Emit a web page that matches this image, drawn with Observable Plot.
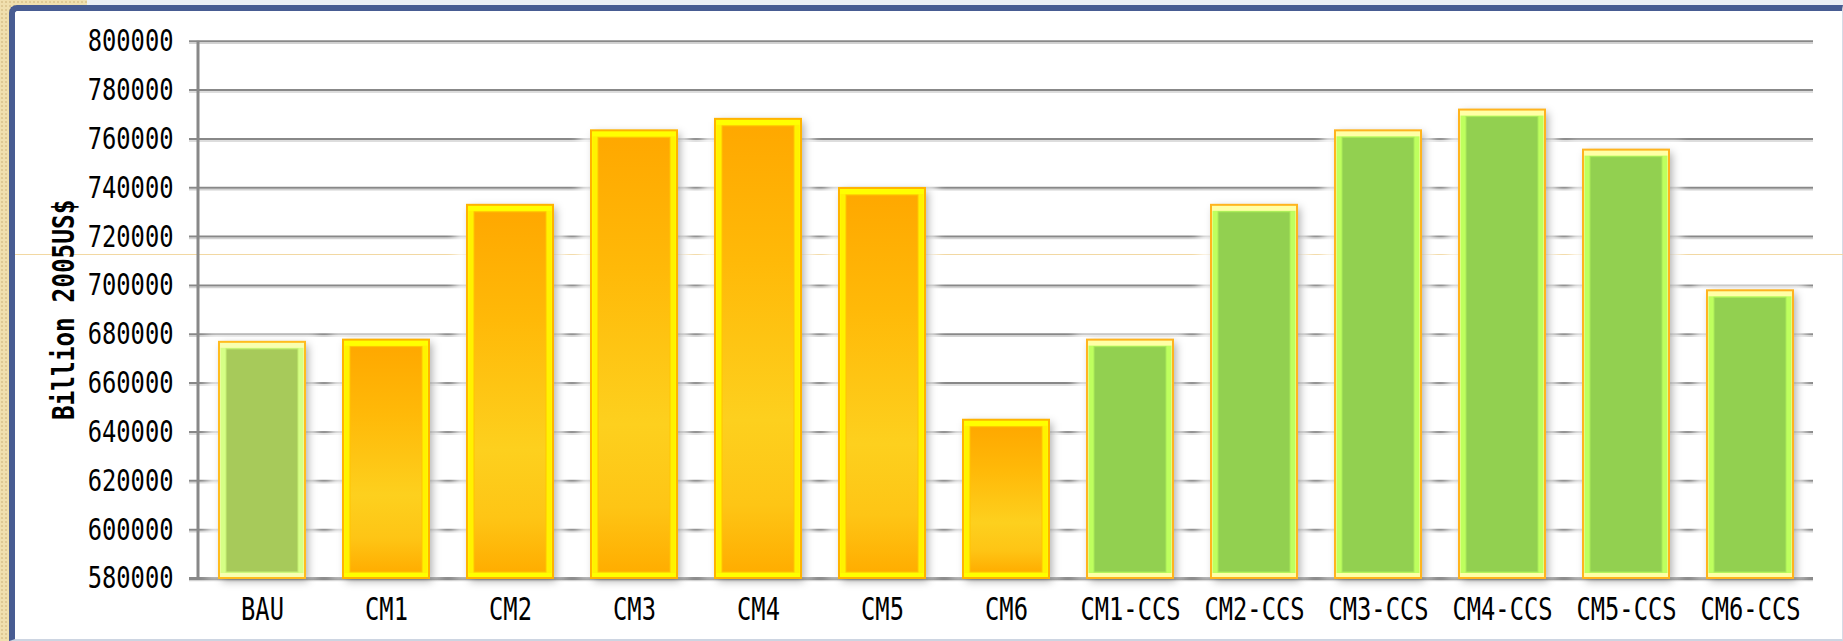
<!DOCTYPE html>
<html>
<head>
<meta charset="utf-8">
<script src="https://cdn.jsdelivr.net/npm/d3@7"></script>
<script src="https://cdn.jsdelivr.net/npm/@observablehq/plot@0.6"></script>
<style>
  html, body { margin: 0; padding: 0; }
  body {
    width: 1843px; height: 641px; overflow: hidden;
    background-color: #f0dfae;
    background-image: radial-gradient(rgba(190, 160, 100, 0.35) 1px, transparent 1.3px);
    background-size: 4px 4px;
  }
  #stage { position: relative; width: 1843px; height: 641px; }
  .top-strip { position: absolute; left: 87px; top: 0; right: 0; height: 6px; background: #eceff5; }
  .frame {
    position: absolute; left: 9px; top: 5px; right: 0; bottom: 0;
    box-sizing: border-box; background: #fff;
    border-left: 6px solid #485c92; border-top: 6px solid #485c92;
    border-right: 1px solid #d5dbe6; border-bottom: 2px solid #cdd5e2;
    border-top-left-radius: 8px;
  }
  .seam { position: absolute; left: 15px; right: 0; top: 254px; height: 1px; background: #f2d8a2; }
</style>
</head>
<body>
<div id="stage">
  <div class="top-strip"></div>
  <div class="frame"></div>
  <div class="seam"></div>
</div>
<script>
// Scenario results, billion 2005 US$
const scenarios = ["BAU", "CM1", "CM2", "CM3", "CM4", "CM5", "CM6",
                   "CM1-CCS", "CM2-CCS", "CM3-CCS", "CM4-CCS", "CM5-CCS", "CM6-CCS"];
const gdp = [676700, 677600, 732800, 763300, 768000, 739700, 644800,
             677600, 732800, 763300, 771800, 755400, 697800];
const groups = ["base", "mitigation", "mitigation", "mitigation", "mitigation", "mitigation", "mitigation",
                "ccs", "ccs", "ccs", "ccs", "ccs", "ccs"];
const yTicks = [580000, 600000, 620000, 640000, 660000, 680000, 700000,
                720000, 740000, 760000, 780000, 800000];
const yTitle = "Billion 2005US$";

const table = scenarios.map((scenario, i) => ({scenario, value: gdp[i], group: groups[i]}));
const floor = yTicks[0];

// bar styling per scenario group
const palette = {
  base:       {outline: "#ffbc1e", bevel: "#f8ffb0", rim: "#d6ff86", fill: "#a7ca5a", line: "#c4f070"},
  mitigation: {outline: "#ffb300", bevel: "#ffff00", rim: "#fff200", fill: "url(#orangeFill)", line: "#ffc400"},
  ccs:        {outline: "#ffb41e", bevel: "#ffffa6", rim: "#beff5e", fill: "#92d050", line: "#a9ea58"}
};
const mono = "'DejaVu Sans Mono', 'Liberation Mono', monospace";
const barBase = {x: "scenario", y1: () => floor, y2: "value"};

const chart = Plot.plot({
  width: 1843,
  height: 641,
  marginLeft: 198,
  marginRight: 30,
  marginTop: 40.7,
  marginBottom: 63,
  x: {domain: scenarios, paddingInner: 0.31, paddingOuter: 0.155, axis: null},
  y: {domain: [yTicks[0], yTicks[yTicks.length - 1]], axis: null},
  color: {type: "identity"},
  style: {position: "absolute", left: "0px", top: "0px", background: "transparent",
          overflow: "visible", fontFamily: mono},
  marks: [
    // gridlines with their soft shadow, extended left as tick marks
    Plot.ruleY(yTicks, {y: d => d, stroke: "#d2d2d2", strokeWidth: 1.5, dy: 2, insetLeft: -9}),
    Plot.ruleY(yTicks.slice(1), {y: d => d, stroke: "#888888", strokeWidth: 2, insetLeft: -9}),
    Plot.ruleY([floor], {y: d => d, stroke: "#888888", strokeWidth: 3, insetLeft: -9}),
    // glow and shadow under the bars
    Plot.barY(table, {...barBase, fill: "#ffffff", fillOpacity: 0.75,
      insetLeft: -12, insetRight: -12, insetTop: -8, ariaDescription: "bar-halo"}),
    Plot.barY(table, {...barBase, fill: "#000000", fillOpacity: 0.32, dx: 3, dy: 3,
      ariaDescription: "bar-shadow"}),
    // bevelled bars: outline + top bevel, side rims, inner fill
    Plot.barY(table, {...barBase, fill: d => palette[d.group].bevel,
      stroke: d => palette[d.group].outline, strokeWidth: 2}),
    Plot.barY(table, {...barBase, fill: d => palette[d.group].rim,
      insetTop: 6, insetBottom: 5, insetLeft: 1.5, insetRight: 1.5}),
    Plot.barY(table, {...barBase, fill: d => palette[d.group].fill,
      stroke: d => palette[d.group].line, strokeWidth: 1,
      insetTop: 7, insetBottom: 6, insetLeft: 7, insetRight: 7}),
    // value axis labels
    Plot.text(yTicks, {y: d => d, text: d => String(d), frameAnchor: "left", dx: -25,
      textAnchor: "end", fontSize: 31, fontFamily: mono, fill: "#000",
      ariaDescription: "ytick-labels"}),
    // scenario labels
    Plot.text(table, {x: "scenario", text: "scenario", frameAnchor: "bottom", dy: 41,
      lineAnchor: "bottom", fontSize: 32, fontFamily: mono, fill: "#000",
      ariaDescription: "xtick-labels"}),
    // axis title
    Plot.text([yTitle], {text: d => d, frameAnchor: "left", dx: -134, rotate: -90,
      textAnchor: "middle", fontSize: 31, fontWeight: "bold", fontFamily: mono, fill: "#000",
      ariaDescription: "y-title"})
  ]
});

document.getElementById("stage").appendChild(chart);

// gradients, filters and condensed lettering
const root = d3.select(chart);
const defs = root.insert("defs", ":first-child");
const grad = defs.append("linearGradient").attr("id", "orangeFill")
  .attr("x1", 0).attr("y1", 0).attr("x2", 0).attr("y2", 1);
[[0, "#ffa800"], [0.3, "#ffb908"], [0.66, "#fdd01e"], [0.85, "#fec515"], [1, "#ffad00"]]
  .forEach(([o, c]) => grad.append("stop").attr("offset", o).attr("stop-color", c));
defs.append("filter").attr("id", "haloBlur")
  .attr("x", "-5%").attr("y", "-5%").attr("width", "110%").attr("height", "110%")
  .append("feGaussianBlur").attr("stdDeviation", 5);
defs.append("filter").attr("id", "shadowBlur")
  .attr("x", "-5%").attr("y", "-5%").attr("width", "110%").attr("height", "110%")
  .append("feGaussianBlur").attr("stdDeviation", 4);
root.select('g[aria-description="bar-halo"]').attr("filter", "url(#haloBlur)");
root.select('g[aria-description="bar-shadow"]').attr("filter", "url(#shadowBlur)");

const squeeze = (sel, pitch) => root.selectAll(`g[aria-description="${sel}"] text`)
  .attr("textLength", function () { return this.textContent.length * pitch; })
  .attr("lengthAdjust", "spacingAndGlyphs");
squeeze("ytick-labels", 14.3);
squeeze("xtick-labels", 14.3);
squeeze("y-title", 14.7);

// vertical value axis line
const xr = chart.scale("x").range, yr = chart.scale("y").range;
root.append("line")
  .attr("x1", xr[0]).attr("x2", xr[0])
  .attr("y1", Math.max(...yr) + 1.5).attr("y2", Math.min(...yr))
  .attr("stroke", "#888888").attr("stroke-width", 3);
</script>
</body>
</html>
